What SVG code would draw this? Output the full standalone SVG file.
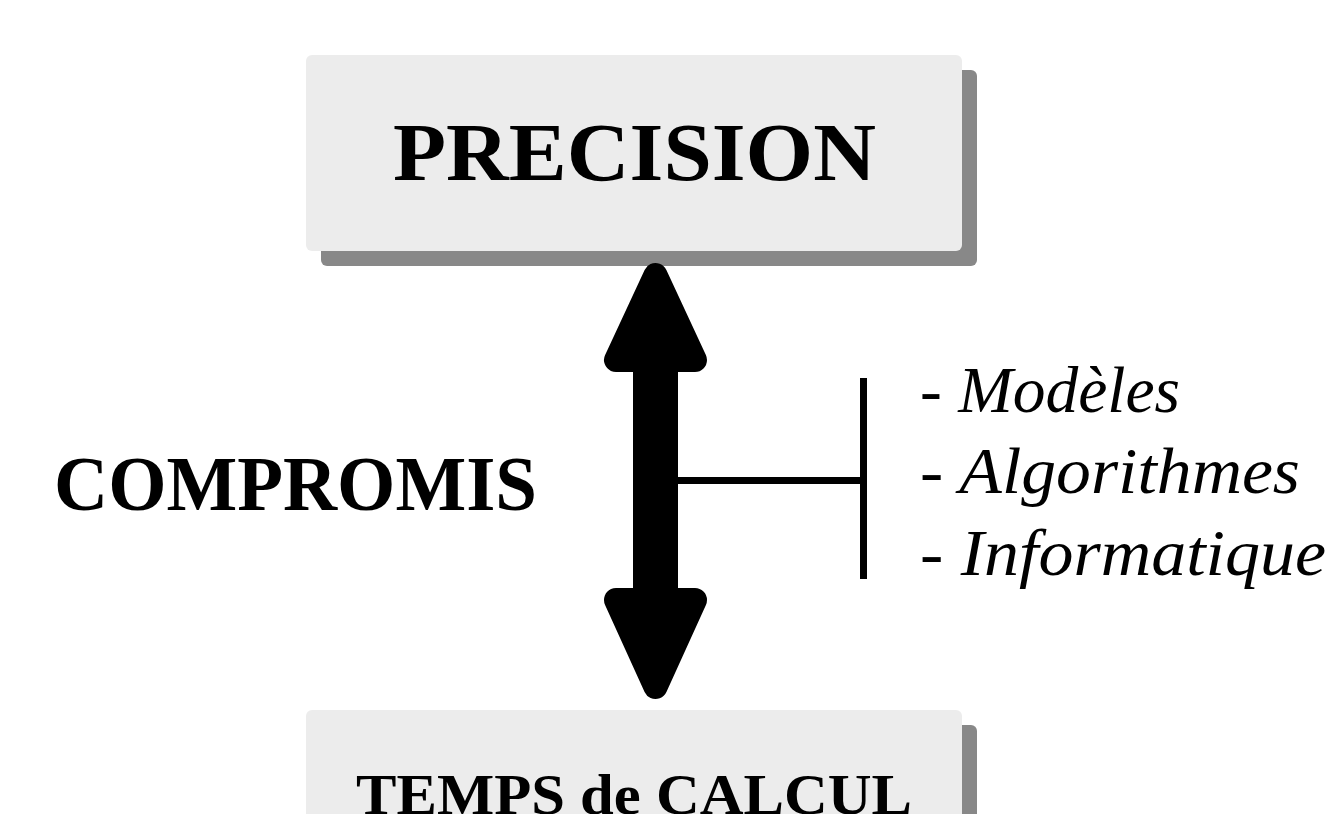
<svg xmlns="http://www.w3.org/2000/svg" width="1334" height="814" viewBox="0 0 1334 814">
<style>
.box{fill:#ececec}
.shadow{fill:#888888}
.bold{font-family:"Liberation Serif","Times New Roman",serif;font-weight:bold;fill:#000}
.ital{font-family:"Liberation Serif","Times New Roman",serif;font-style:italic;fill:#000;font-size:66px}
.head{fill:#000;stroke:#000;stroke-width:24;stroke-linejoin:round}
.line{stroke:#000;stroke-width:7;fill:none}
</style>
<rect width="1334" height="814" fill="#ffffff"/>
<g id="precision">
<rect class="shadow" x="321" y="70" width="656" height="196" rx="6"/>
<rect class="box" x="306" y="55" width="656" height="196" rx="6"/>
<text class="bold" x="393" y="180" font-size="82" textLength="483" lengthAdjust="spacingAndGlyphs">PRECISION</text>
</g>
<g id="temps">
<rect class="shadow" x="321" y="725" width="656" height="196" rx="6"/>
<rect class="box" x="306" y="710" width="656" height="196" rx="6"/>
<text class="bold" x="356" y="814" font-size="56" textLength="556" lengthAdjust="spacingAndGlyphs">TEMPS de CALCUL</text>
</g>
<g id="compromis">
<text class="bold" x="54" y="510" font-size="78" textLength="483" lengthAdjust="spacingAndGlyphs">COMPROMIS</text>
</g>
<g id="factors">
<text class="ital" x="920" y="412" textLength="260" lengthAdjust="spacingAndGlyphs">- Modèles</text>
<text class="ital" x="920" y="493" textLength="380" lengthAdjust="spacingAndGlyphs">- Algorithmes</text>
<text class="ital" x="920" y="575" textLength="406" lengthAdjust="spacingAndGlyphs">- Informatique</text>
</g>
<g id="connectors">
<rect x="633" y="360" width="45" height="240" fill="#000"/>
<polygon class="head" points="655.5,275 616,360 695,360"/>
<polygon class="head" points="616,600 695,600 655.5,687"/>
<line class="line" x1="678" y1="480.5" x2="863.5" y2="480.5"/>
<line class="line" x1="863.5" y1="378" x2="863.5" y2="579"/>
</g>
</svg>
